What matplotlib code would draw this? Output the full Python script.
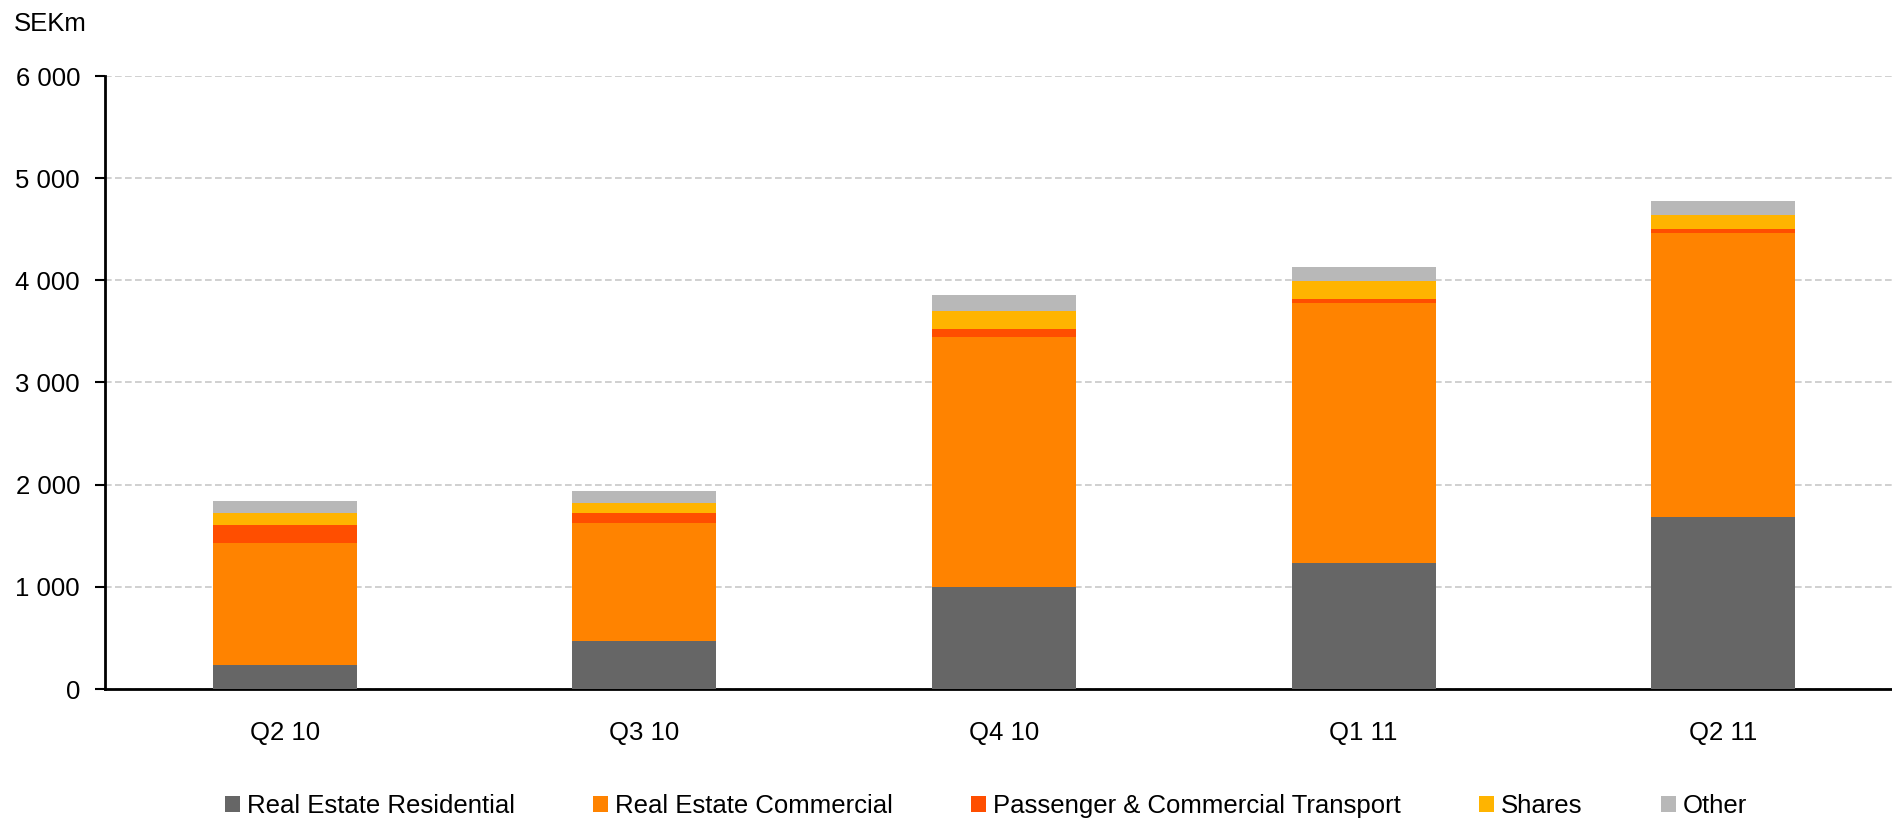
import matplotlib
matplotlib.use("Agg")
import matplotlib.pyplot as plt
import numpy as np

plt.rcParams['font.family'] = ['Liberation Sans', 'DejaVu Sans']

# quarters on the x axis
quarters = ["Q2 10", "Q3 10", "Q4 10", "Q1 11", "Q2 11"]

# SEKm per segment
residential = [232, 467, 995, 1230, 1683]
commercial = [1196, 1157, 2449, 2547, 2779]
transport = [173, 98, 78, 39, 39]
shares = [118, 95, 173, 176, 137]
other = [121, 120, 160, 143, 137]

series = [
    ("Real Estate Residential", residential, "#666666"),
    ("Real Estate Commercial", commercial, "#FF8300"),
    ("Passenger & Commercial Transport", transport, "#FF4E00"),
    ("Shares", shares, "#FFB400"),
    ("Other", other, "#B8B8B8"),
]

fs = 18.5

fig = plt.figure(figsize=(18.92, 8.22), dpi=100)
ax = fig.add_axes([105 / 1892, 1 - 689 / 822, 1798 / 1892, 613 / 822])

x = np.arange(len(quarters))
bottom = np.zeros(len(quarters))
for name, vals, col in series:
    ax.bar(x, vals, width=0.4, bottom=bottom, color=col, label=name, zorder=3)
    bottom += np.array(vals)

ax.set_xlim(-0.5, 4.5)
ax.set_ylim(0, 6000)
ax.set_yticks(range(0, 6001, 1000))
ax.set_yticklabels(["0", "1 000", "2 000", "3 000", "4 000", "5 000", "6 000"],
                   ha="right")
ax.set_xticks(x)
ax.set_xticklabels(quarters)

ax.yaxis.grid(True, color="#C8C8C8", linestyle=(0, (4, 2)), linewidth=1.2, zorder=0)
for s in ["top", "right"]:
    ax.spines[s].set_visible(False)
for s in ["left", "bottom"]:
    ax.spines[s].set_linewidth(2)
    ax.spines[s].set_color("black")

ax.tick_params(axis="y", length=7, width=1.5, labelsize=fs, pad=11)
ax.tick_params(axis="x", length=0, labelsize=fs, pad=23)

fig.text(14 / 1892, 1 - 24 / 822, "SEKm", fontsize=fs, va="center", ha="left")

leg = fig.legend(loc="center", bbox_to_anchor=(0.521, 1 - 806 / 822), ncol=5,
                 frameon=False, fontsize=fs, handlelength=0.6, handleheight=0.6,
                 handletextpad=0.25, columnspacing=3.05)

fig.savefig("out.png", dpi=100)
